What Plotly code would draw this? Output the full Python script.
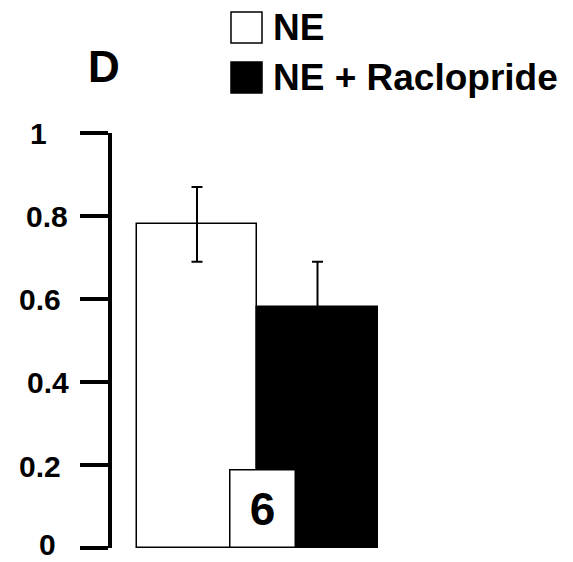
import plotly.graph_objects as go

# data
groups = ["NE", "NE + Raclopride"]
means = [0.78, 0.58]
sem = [0.09, 0.11]
fills = ["white", "black"]
ytick_vals = [0, 0.2, 0.4, 0.6, 0.8, 1]
ytick_text = ["0", "0.2", "0.4", "0.6", "0.8", "1"]
n_label = "6"
panel = "D"

# label centres (page px) - the original labels are not quite aligned
label_cx = [47.5, 39.5, 47.5, 39.5, 47, 38.5]
label_dy = [4, -1, 0, 0, 0, 0]

FONT = "Liberation Sans, Arial, sans-serif"
OFF = 8  # page body margin
W, H = 573 - OFF, 562 - OFF
# plot area in page pixels: x 112..440, y 133..548
L, T = 112 - OFF, 133 - OFF
R, B = W - (440 - OFF), H - (548 - OFF)
PW, PH = W - L - R, H - T - B


def px(x):
    # page pixel -> paper x
    return (x - OFF - L) / PW


def py(y):
    # page pixel -> paper y
    return (H - B - (y - OFF)) / PH


fig = go.Figure()
for i, g in enumerate(groups):
    fig.add_trace(go.Bar(
        x=[i], y=[means[i]], width=1, name=g,
        marker=dict(color=fills[i], line=dict(color="black", width=1.5)),
        error_y=dict(type="data", array=[sem[i]], color="black",
                     thickness=2, width=5.5),
        showlegend=False,
    ))

# legend drawn by hand (big square keys)
for i, g in enumerate(groups):
    y0 = 12 + i * 50
    fig.add_shape(type="rect", xref="paper", yref="paper",
                  x0=px(231), x1=px(262), y0=py(y0 + 31), y1=py(y0),
                  fillcolor=fills[i], line=dict(color="black", width=1.5))
    fig.add_annotation(text="<b>%s</b>" % g, xref="paper", yref="paper",
                       x=px(271), y=py(y0 + 16), xanchor="left", yanchor="middle",
                       showarrow=False, font=dict(size=37, color="black", family=FONT))

fig.add_annotation(text="<b>%s</b>" % panel, xref="paper", yref="paper",
                   x=px(104), y=py(67), xanchor="center", yanchor="middle",
                   showarrow=False, font=dict(size=44, color="black", family=FONT))

# y tick labels, centred like the original
for v, t, cx, dy in zip(ytick_vals, ytick_text, label_cx, label_dy):
    fig.add_annotation(text="<b>%s</b>" % t, xref="paper", yref="y",
                       x=px(cx), y=v, xanchor="center", yanchor="middle",
                       yshift=dy, showarrow=False,
                       font=dict(size=30, color="black", family=FONT))

# n label box
fig.add_annotation(text="<b>%s</b>" % n_label, xref="x", yref="y",
                   x=0.54, y=0, xanchor="center", yanchor="bottom",
                   showarrow=False, width=62, height=74,
                   bgcolor="white", bordercolor="black", borderwidth=1.5,
                   font=dict(size=46, color="black", family=FONT))

fig.update_layout(
    width=W, height=H,
    margin=dict(l=L, r=R, t=T, b=B),
    plot_bgcolor="white", paper_bgcolor="white",
    bargap=0,
    xaxis=dict(range=[(112 - 197) / 120.5, (440 - 197) / 120.5],
               visible=False, fixedrange=True),
    yaxis=dict(range=[0, 1], tickvals=ytick_vals, showticklabels=False,
               showline=True, linecolor="black", linewidth=4,
               ticks="outside", ticklen=28, tickwidth=4, tickcolor="black",
               showgrid=False, zeroline=False, fixedrange=True),
)

fig.write_html("out.html")
